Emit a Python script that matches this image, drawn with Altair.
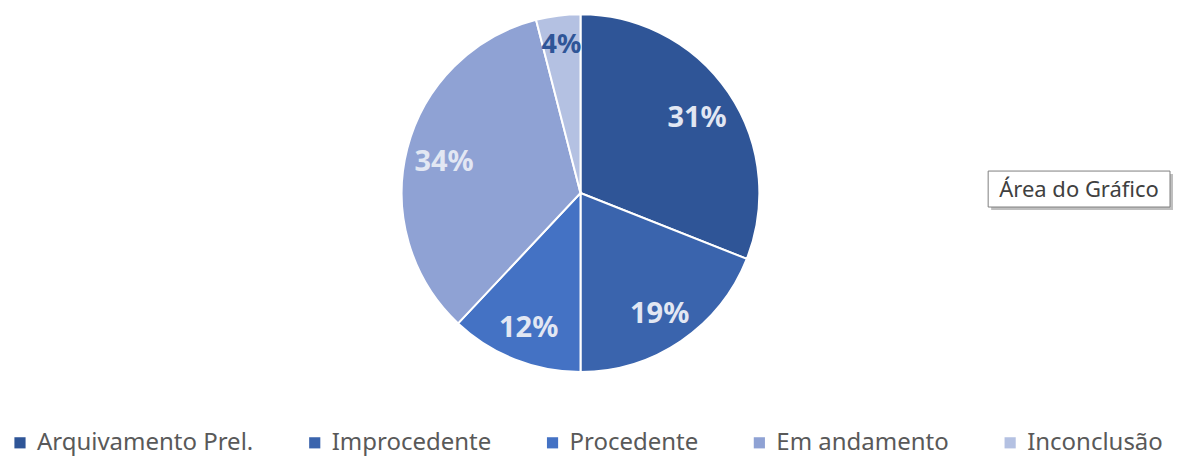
import altair as alt
import pandas as pd
import math

categories = ["Arquivamento Prel.", "Improcedente", "Procedente", "Em andamento", "Inconclusão"]
values = [31, 19, 12, 34, 4]
labels = ["31%", "19%", "12%", "34%", "4%"]
colors = ["#2F5597", "#3A64AD", "#4472C4", "#8FA2D4", "#B4C1E2"]

df = pd.DataFrame({"cat": categories, "val": values, "lab": labels, "ord": list(range(len(categories)))})

CX, CY, R = 573, 185, 179

base = alt.Chart(df).encode(
    theta=alt.Theta("val:Q", stack=True),
    order=alt.Order("ord:Q"),
)

pie = base.mark_arc(outerRadius=R, stroke="white", strokeWidth=2).encode(
    x=alt.value(CX), y=alt.value(CY),
    color=alt.Color(
        "cat:N",
        scale=alt.Scale(domain=categories, range=colors),
        sort=categories,
        legend=alt.Legend(
            title=None, orient="none", direction="horizontal",
            legendX=0, legendY=423, symbolType="square", symbolSize=125,
            symbolStrokeWidth=0, labelFont="Noto Sans", labelFontSize=24,
            labelColor="#595959", columnPadding=49, labelOffset=5, labelLimit=600,
        ),
    ),
)

lab_base = alt.Chart(df).transform_joinaggregate(
    total="sum(val)"
).transform_window(
    cum="sum(val)", sort=[alt.SortField("ord")], frame=[None, 0]
).transform_calculate(
    mid="(datum.cum - datum.val / 2) / datum.total"
).encode(
    theta=alt.Theta("mid:Q", scale=alt.Scale(domain=[0, 1], range=[0, 2 * math.pi])),
    x=alt.value(CX), y=alt.value(CY),
    text="lab:N",
)

text_main = lab_base.transform_filter(alt.datum.cat != "Inconclusão").mark_text(
    radius=141, dy=4, font="Noto Sans", fontSize=29, fontWeight="bold", color="#E2E7F3")
text_small = lab_base.transform_filter(alt.datum.cat == "Inconclusão").mark_text(
    radius=153, dy=4, font="Noto Sans", fontSize=27, fontWeight="bold", color="#2F5597")

box_df = pd.DataFrame({"t": ["Área do Gráfico"]})
shadow = alt.Chart(box_df).mark_rect(color="#BFBFBF").encode(
    x=alt.value(984), x2=alt.value(1166), y=alt.value(166), y2=alt.value(202))
box = alt.Chart(box_df).mark_rect(fill="white", stroke="#7F7F7F", strokeWidth=1).encode(
    x=alt.value(981), x2=alt.value(1163), y=alt.value(163), y2=alt.value(199))
boxtext = alt.Chart(box_df).mark_text(font="Noto Sans", fontSize=22, color="#404040").encode(
    x=alt.value(1072), y=alt.value(182), text="t:N")

chart = alt.layer(pie, text_main, text_small, shadow, box, boxtext).resolve_scale(
    theta="independent"
).properties(
    width=1165, height=420, padding={"left": 0, "top": 0, "right": 0, "bottom": 6}
).configure_view(stroke=None)

chart.save("out.html", embed_options={"renderer": "svg", "actions": False})
